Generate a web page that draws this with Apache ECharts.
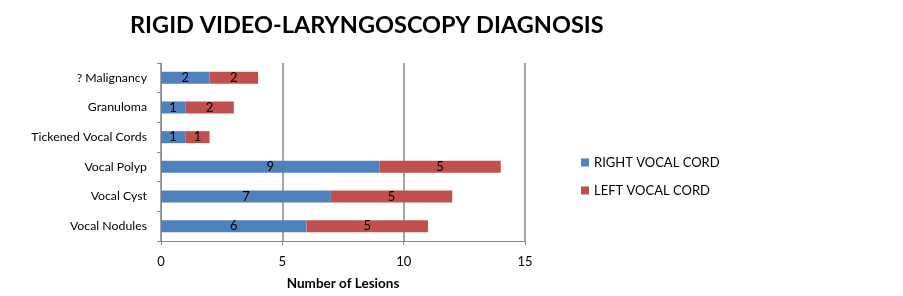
<!DOCTYPE html>
<html><head><meta charset="utf-8">
<script src="https://cdn.jsdelivr.net/npm/echarts@6/dist/echarts.min.js"></script>
<style>html,body{margin:0;padding:0;background:#fff}#c{width:903px;height:296px}</style>
</head><body><div id="c"></div>
<script>
var categories = ['Vocal Nodules', 'Vocal Cyst', 'Vocal Polyp', 'Tickened Vocal Cords', 'Granuloma', '? Malignancy'];
var rightCord = [6, 7, 9, 1, 1, 2];
var leftCord = [5, 5, 5, 1, 2, 2];
var seriesNames = ['RIGHT VOCAL CORD', 'LEFT VOCAL CORD'];
var xTicks = [0, 5, 10, 15];

var font = 'Lato, "Open Sans", sans-serif';
var chart = echarts.init(document.getElementById('c'));
chart.setOption({
  animation: false,
  title: {
    text: 'RIGID VIDEO-LARYNGOSCOPY DIAGNOSIS',
    left: 125, top: 8,
    textStyle: {fontFamily: font, fontWeight: 'bold', fontSize: 23.5, color: '#000'}
  },
  legend: {
    orient: 'vertical', left: 576, top: 151, itemGap: 15,
    itemWidth: 8, itemHeight: 8, icon: 'rect',
    textStyle: {fontFamily: font, fontSize: 13, color: '#000', padding: [0,0,0,0]},
    data: seriesNames
  },
  grid: {left: 161, right: 378, top: 63, bottom: 54},
  xAxis: {
    type: 'value', min: 0, max: 15, interval: 5,
    name: 'Number of Lesions', nameLocation: 'middle', nameGap: 36,
    nameTextStyle: {fontFamily: font, fontWeight: 'bold', fontSize: 13.5, color: '#000'},
    axisLine: {show: true, lineStyle: {color: '#888', width: 1}},
    axisTick: {show: true, length: 4, lineStyle: {color: '#888'}},
    axisLabel: {fontFamily: font, fontSize: 13, color: '#000', margin: 14,
      formatter: function (v) { return xTicks.indexOf(v) >= 0 ? String(v) : ''; }},
    splitLine: {show: true, lineStyle: {color: '#888', width: 1.5}}
  },
  yAxis: {
    type: 'category', data: categories,
    axisLine: {show: true, lineStyle: {color: '#888'}},
    axisTick: {show: true, length: 4, inside: false, lineStyle: {color: '#888'}},
    axisLabel: {fontFamily: font, fontSize: 12.3, color: '#000', margin: 14}
  },
  series: [
    {name: seriesNames[0], type: 'bar', stack: 's', data: rightCord, barWidth: 12,
      itemStyle: {color: '#4F81BD'},
      label: {show: true, position: 'inside', color: '#000', fontFamily: font, fontSize: 13}},
    {name: seriesNames[1], type: 'bar', stack: 's', data: leftCord, barWidth: 12,
      itemStyle: {color: '#C0504D'},
      label: {show: true, position: 'inside', color: '#000', fontFamily: font, fontSize: 13}}
  ]
});
</script></body></html>
